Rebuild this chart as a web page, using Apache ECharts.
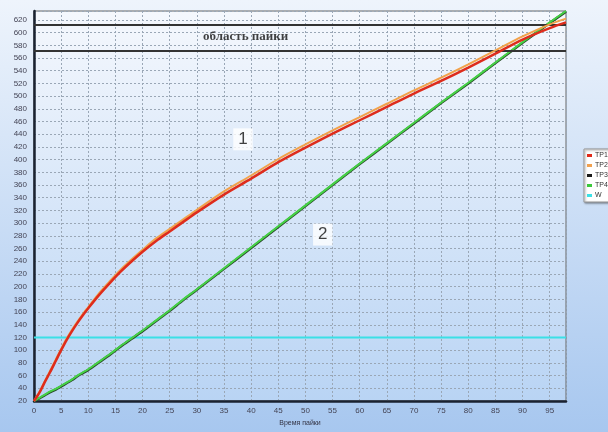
<!DOCTYPE html>
<html><head><meta charset="utf-8">
<script src="https://cdn.jsdelivr.net/npm/echarts@6/dist/echarts.min.js"></script>
<style>html,body{margin:0;padding:0;}#c{width:608px;height:432px;}</style>
</head><body><div id="c"></div>
<script>
// time axis (Время пайки)
var times = [0,1,2,3,4,5,6,7,8,9,10,12,14,16,18,20,22.5,25,27.5,30,35,40,45,50,55,60,65,70,75,80,85,90,95,98];
var tp1 = [20,33,50,66,83,100,116,130,143,155,166,187,206,224,240,255,272,287,302,317,345,370,396,419,441,462,483,504,524,545,567,589,607,616];
var tp2 = [20,34,51,68,85,102,118,132,145,157,168,190,209,227,243,258,276,291,306,321,350,375,401,424,446,467,488,509,529,550,572,594,613,622];
var tp3 = [20,24,29,34,38,43,48,53,59,64,69,81,93,106,118,130,146,162,179,195,228,261,294,327,360,393,425,457,489,520,552,584,615,633];
var tp4 = [20,25,30,35,39,44,49,54,60,65,70,82,94,107,119,131,147,163,180,196,229,262,295,328,361,394,426,458,490,521,553,585,616,634];
var wVal = [120,120,120,120,120,120,120,120,120,120,120,120,120,120,120,120,120,120,120,120,120,120,120,120,120,120,120,120,120,120,120,120,120,120];
var zoneLines = [572, 612];
var zoneText = 'область пайки';
var zoneTextPos = [39, 593];
var curveLabels = ['1','2'];
var curveLabelPos = [[38.5, 432],[53.2, 282]];
var xTitle = 'Время пайки';

function pairs(v){ return times.map(function(t,i){ return [t, v[i]]; }); }

var chart = echarts.init(document.getElementById('c'));
var grad = function(a,b){ return new echarts.graphic.LinearGradient(0,0,0,1,[{offset:0,color:a},{offset:1,color:b}]); };
var annoData = curveLabels.map(function(t,i){ return {value: curveLabelPos[i], name: t}; });
chart.setOption({
  backgroundColor: grad('#eef4fc','#a7c7ef'),
  animation: false,
  grid: {left:34, right:42, top:11, bottom:25, show:true, backgroundColor: grad('#f5f8fd','#b9d4f4'), borderColor:'#666', borderWidth:1},
  legend: {
    orient:'vertical', left:584, top:149, itemGap:3, padding:[3,3,3,3],
    itemWidth:5, itemHeight:3, icon:'rect',
    backgroundColor:'#ffffff', borderColor:'#999', borderWidth:1,
    shadowColor:'rgba(0,0,0,0.4)', shadowBlur:2, shadowOffsetX:1, shadowOffsetY:1,
    textStyle:{fontSize:7, color:'#333', fontFamily:'Liberation Sans', padding:[0,0,0,-2]},
    data:['TP1','TP2','TP3','TP4','W']
  },
  xAxis: {
    type:'value', min:0, max:98, interval:5,
    name: xTitle, nameLocation:'middle', nameGap:19,
    nameTextStyle:{fontSize:7, color:'#334', fontFamily:'Liberation Sans'},
    axisLine:{show:true, onZero:false, lineStyle:{color:'#1a2230', width:2.5}},
    axisTick:{show:false},
    axisLabel:{fontSize:8, color:'#445', fontFamily:'Liberation Sans', margin:6, showMaxLabel:false},
    splitLine:{show:true, lineStyle:{color:'#9aa7b6', type:[2,2], width:1}}
  },
  yAxis: {
    type:'value', min:20, max:634, interval:20,
    axisLine:{show:true, onZero:false, lineStyle:{color:'#1a2230', width:2.5}},
    axisTick:{show:false},
    axisLabel:{fontSize:8, color:'#445', fontFamily:'Liberation Sans', margin:7, showMaxLabel:false},
    splitLine:{show:true, lineStyle:{color:'#9aa7b6', type:[2,2], width:1}}
  },
  series: [
    {name:'W', type:'line', data:pairs(wVal), showSymbol:false, z:2,
     itemStyle:{color:'#3be0e6'}, lineStyle:{color:'#3be0e6', width:2},
     markLine:{silent:true, symbol:'none', label:{show:false},
       lineStyle:{color:'#333', width:2, type:'solid'},
       data: zoneLines.map(function(v){ return {yAxis:v}; })}},
    {name:'TP3', type:'line', data:pairs(tp3), showSymbol:false, smooth:0.3, z:3,
     itemStyle:{color:'#1a1a1a'}, lineStyle:{color:'#2a4a2a', width:2.5}},
    {name:'TP4', type:'line', data:pairs(tp4), showSymbol:false, smooth:0.3, z:4,
     itemStyle:{color:'#3cc83c'}, lineStyle:{color:'#45d245', width:2}},
    {name:'TP2', type:'line', data:pairs(tp2), showSymbol:false, smooth:0.3, z:5,
     itemStyle:{color:'#f0a050'}, lineStyle:{color:'#f2a24a', width:2}},
    {name:'TP1', type:'line', data:pairs(tp1), showSymbol:false, smooth:0.3, z:6,
     itemStyle:{color:'#e02a1a'}, lineStyle:{color:'#de2c1c', width:2.5}},
    {name:'anno', type:'scatter', data:annoData, symbolSize:0, z:10, silent:true,
     label:{show:true, position:'inside', formatter:function(p){return p.name;}, fontSize:17, color:'#111', fontFamily:'Liberation Sans', backgroundColor:'#ffffff', padding:[3,5,2,5]}},
    {name:'zone', type:'scatter', data:[{value:zoneTextPos, name:zoneText}], symbolSize:0, z:10, silent:true,
     label:{show:true, position:'inside', formatter:function(p){return p.name;}, fontSize:13, fontWeight:'bold', color:'#111', fontFamily:'Liberation Serif'}}
  ]
});
</script></body></html>
